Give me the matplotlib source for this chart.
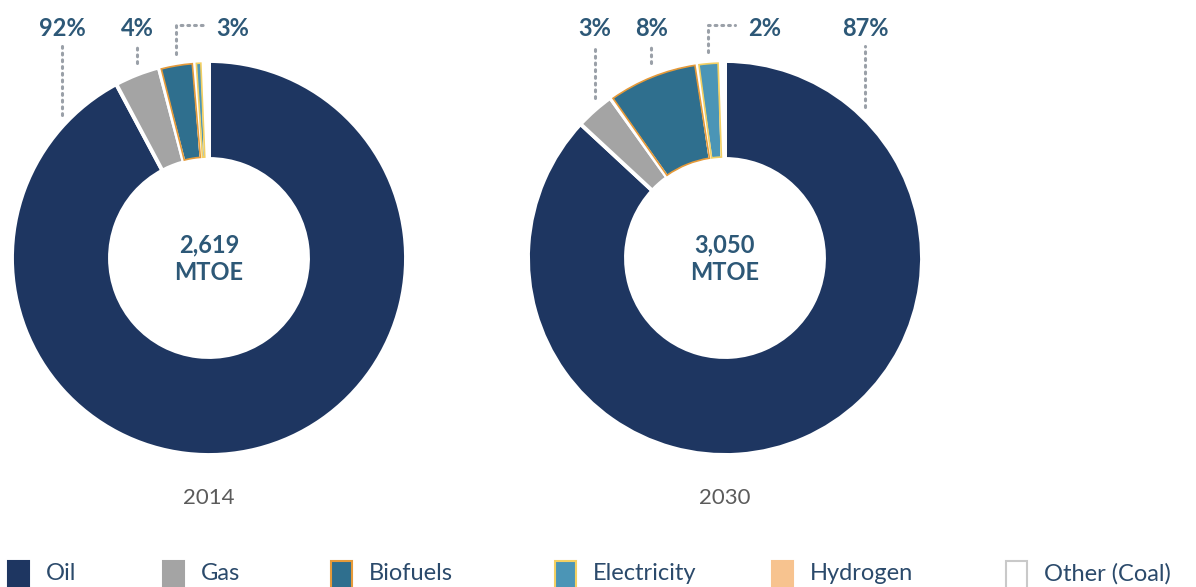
import numpy as np
import matplotlib.pyplot as plt
from matplotlib.patches import Wedge, Rectangle

plt.rcParams['font.family'] = ['Lato', 'DejaVu Sans']

categories = ['Oil', 'Gas', 'Biofuels', 'Electricity', 'Hydrogen', 'Other (Coal)']
share_2014 = [92.2, 3.7, 2.9, 0.7, 0.1, 0.4]
share_2030 = [86.9, 3.2, 7.6, 1.9, 0.1, 0.3]
years = ['2014', '2030']
totals = ['2,619', '3,050']

colors = ['#1e3661', '#a4a4a4', '#2f6f8e', '#4b95b6', '#f7c38f', '#ffffff']
accents = [None, None, '#e59a3a', '#f3d063', '#f7c38f', None]
legend_edges = ['#1e3661', '#a4a4a4', '#e59a3a', '#f3d063', '#f7c38f', '#c9c9c9']

TXT = '#2d5877'
W, H = 1196, 587

fig = plt.figure(figsize=(W / 100, H / 100), dpi=100)
ax = fig.add_axes([0, 0, 1, 1])

R, RING = 197, 98
# (index, angle override for the leader, elbow to the right)
label_specs = [
    [(0, 138.3, False), (1, None, False), (2, None, True)],
    [(0, 44.7, False), (1, None, False), (2, None, False), (3, None, True)],
]
centers = [(209, H - 258), (725, H - 258)]
leader = dict(color='#9aa0a8', lw=2.2, ls=(0, (0.6, 1.6)), dash_capstyle='round')

for shares, (cx, cy), year, total, specs in zip(
        [share_2014, share_2030], centers, years, totals, label_specs):
    wedges, _ = ax.pie(shares, colors=colors, startangle=90, counterclock=False,
                       radius=R, center=(cx, cy), frame=True,
                       wedgeprops=dict(width=RING, edgecolor='white', linewidth=2.8))
    # thin coloured outline on the small slices
    for w, acc in zip(wedges, accents):
        if acc is None or w.theta2 - w.theta1 < 1.0:
            continue
        ax.add_patch(Wedge((cx, cy), R - 2, w.theta1 + 0.6, w.theta2 - 0.6,
                           width=RING - 4, facecolor='none', edgecolor=acc, lw=1.2))

    for idx, ang, elbow in specs:
        w = wedges[idx]
        if ang is None:
            ang = (w.theta1 + w.theta2) / 2
        lx = cx + R * np.cos(np.radians(ang))
        y_ring = cy + np.sqrt(R ** 2 - (lx - cx) ** 2)
        label = f'{round(shares[idx]):.0f}%'
        if elbow:
            ytop = H - 25
            ax.plot([lx, lx, lx + 27], [y_ring + 10, ytop, ytop], **leader)
            ax.text(lx + 40, H - 28, label, ha='left', va='center',
                    fontsize=17, fontweight='bold', color=TXT)
        else:
            ax.plot([lx, lx], [y_ring + 12, H - 46], **leader)
            ax.text(lx, H - 28, label, ha='center', va='center',
                    fontsize=17, fontweight='bold', color=TXT)

    ax.text(cx, cy + 13, total, ha='center', va='center',
            fontsize=17, fontweight='bold', color=TXT)
    ax.text(cx, cy - 14, 'MTOE', ha='center', va='center',
            fontsize=17, fontweight='bold', color=TXT)
    ax.text(cx, H - 498, year, ha='center', va='center', fontsize=16, color='#5b5b5b')

# legend along the bottom edge, boxes run off the bottom
legend_x = [8, 163, 331, 555, 772, 1006]
for x, name, fc, ec in zip(legend_x, categories, colors, legend_edges):
    ax.add_patch(Rectangle((x, -6), 21, H - 561 + 6, facecolor=fc,
                           edgecolor=ec, lw=1.5, clip_on=False))
    ax.text(x + 38, H - 574, name, ha='left', va='center', fontsize=17, color='#2b4a6b')

ax.set_xlim(0, W)
ax.set_ylim(0, H)
ax.set_aspect('auto')
ax.axis('off')

fig.savefig('out.png', dpi=100)
